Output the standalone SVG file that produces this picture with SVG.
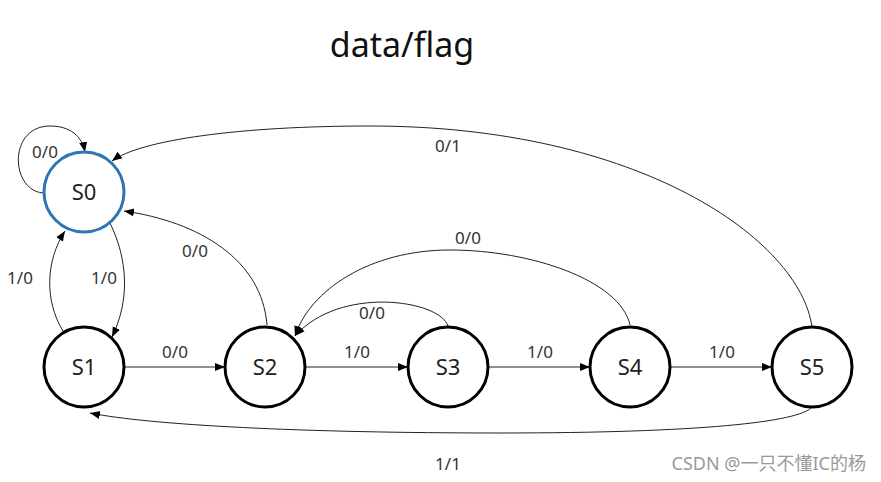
<svg xmlns="http://www.w3.org/2000/svg" width="881" height="482" viewBox="0 0 881 482">
<style>
.node{fill:#fff;stroke:#000;stroke-width:3}
.start{stroke:#2E75B6}
.nt{font-family:"Noto Sans","Open Sans",sans-serif;font-size:22px;fill:#222;text-anchor:middle}
.lbl{font-family:"Noto Sans","Open Sans",sans-serif;font-size:17px;fill:#333;text-anchor:middle}
.edge{fill:none;stroke:#222;stroke-width:1}
</style>
<defs>
<marker id="arr" markerUnits="userSpaceOnUse" markerWidth="10" markerHeight="10" viewBox="0 0 10 10" refX="10" refY="5" orient="auto">
<path d="M0,1 L10,5 L0,9 z" fill="#000"/>
</marker>
</defs>
<rect width="881" height="482" fill="#fff"/>
<text x="402" y="57" font-family="'Noto Sans','Open Sans',sans-serif" font-size="34" fill="#111" text-anchor="middle">data/flag</text>
<g id="connectors">
<path class="edge" marker-end="url(#arr)" d="M43,193 C10,190 8,126 50,126 C70,126 82,136 85,152"/>
<path class="edge" marker-end="url(#arr)" d="M63,331 C44,300 46,260 65,231"/>
<path class="edge" marker-end="url(#arr)" d="M110,223 C128,260 130,300 112,337"/>
<path class="edge" marker-end="url(#arr)" d="M267,325 C262,260 200,222 124,211"/>
<path class="edge" marker-end="url(#arr)" d="M124,367 L225,367"/>
<path class="edge" marker-end="url(#arr)" d="M305,367 L408,367"/>
<path class="edge" marker-end="url(#arr)" d="M488,367 L590,367"/>
<path class="edge" marker-end="url(#arr)" d="M670,367 L772,367"/>
<path class="edge" marker-end="url(#arr)" d="M448,326 C440,300 340,285 295,336"/>
<path class="edge" marker-end="url(#arr)" d="M630,325 C620,280 530,250 450,250 C370,250 310,290 295,336"/>
<path class="edge" marker-end="url(#arr)" d="M812,327 C800,240 640,126 370,126 C240,126 140,140 112,161"/>
<path class="edge" marker-end="url(#arr)" d="M812,407 C800,422 700,433 500,433 C300,433 150,425 90,413"/>
</g>
<g id="edge-labels">
<text class="lbl" x="45" y="158">0/0</text>
<text class="lbl" x="20" y="284">1/0</text>
<text class="lbl" x="104" y="284">1/0</text>
<text class="lbl" x="195" y="257">0/0</text>
<text class="lbl" x="175" y="358">0/0</text>
<text class="lbl" x="357" y="358">1/0</text>
<text class="lbl" x="540" y="358">1/0</text>
<text class="lbl" x="722" y="358">1/0</text>
<text class="lbl" x="372" y="319">0/0</text>
<text class="lbl" x="468" y="244">0/0</text>
<text class="lbl" x="448" y="152">0/1</text>
<text class="lbl" x="448" y="470">1/1</text>
</g>
<g id="S0"><circle class="node start" cx="84" cy="192" r="40"/><text class="nt" x="84" y="200">S0</text></g>
<g id="S1"><circle class="node" cx="84" cy="367" r="40"/><text class="nt" x="84" y="375">S1</text></g>
<g id="S2"><circle class="node" cx="265" cy="367" r="40"/><text class="nt" x="265" y="375">S2</text></g>
<g id="S3"><circle class="node" cx="448" cy="367" r="40"/><text class="nt" x="448" y="375">S3</text></g>
<g id="S4"><circle class="node" cx="630" cy="367" r="40"/><text class="nt" x="630" y="375">S4</text></g>
<g id="S5"><circle class="node" cx="812" cy="367" r="40"/><text class="nt" x="812" y="375">S5</text></g>
<text x="866" y="470" font-family="'Noto Sans','Noto Sans CJK SC',sans-serif" font-size="18" fill="#999" text-anchor="end">CSDN @一只不懂IC的杨</text>
</svg>
